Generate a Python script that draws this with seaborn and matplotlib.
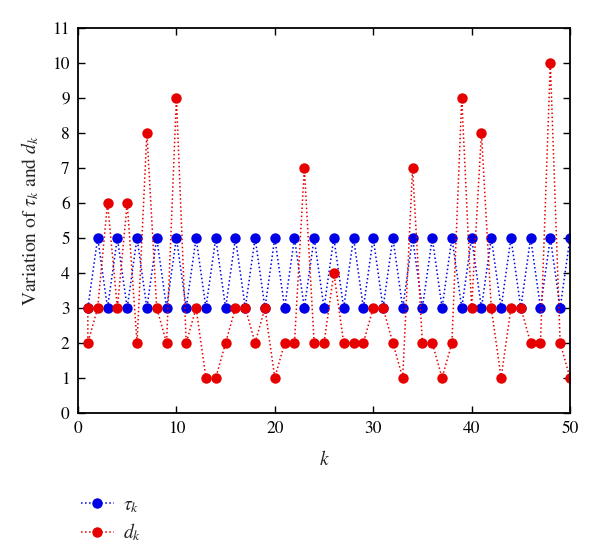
import matplotlib
matplotlib.use("Agg")
import matplotlib.pyplot as plt
import seaborn as sns
import pandas as pd

# ---- data ----
k_tau = list(range(1, 51))
tau = [3, 5] * 25

k_d = [1] + list(range(1, 51))
d = [3,
     2, 3, 6, 3, 6, 2, 8, 3, 2, 9,
     2, 3, 1, 1, 2, 3, 3, 2, 3, 1,
     2, 2, 7, 2, 2, 4, 2, 2, 2, 3,
     3, 2, 1, 7, 2, 2, 1, 2, 9, 3,
     8, 3, 1, 3, 3, 2, 2, 10, 2, 1]

x_ticks = [0, 10, 20, 30, 40, 50]
y_ticks = list(range(0, 12))

sns.set_theme(style="ticks")
plt.rcParams['font.family'] = ['STIXGeneral', 'DejaVu Serif']
plt.rcParams['mathtext.fontset'] = 'stix'

fig = plt.figure(figsize=(6.0, 5.58), dpi=100)
ax = fig.add_axes([0.13, 0.26, 0.82, 0.69])

df_tau = pd.DataFrame({"k": k_tau, "v": tau})
df_d = pd.DataFrame({"k": k_d, "v": d})

sns.lineplot(data=df_tau, x="k", y="v", ax=ax, estimator=None, sort=False,
             color="#0000e6", linestyle=":", linewidth=1.1, marker="o",
             markersize=7.5, markeredgewidth=0, label=r"$\tau_k$")
sns.lineplot(data=df_d, x="k", y="v", ax=ax, estimator=None, sort=False,
             color="#e60000", linestyle=":", linewidth=1.1, marker="o",
             markersize=7.5, markeredgewidth=0, label=r"$d_k$")

ax.set_xlim(0, 50)
ax.set_ylim(0, 11)
ax.set_xticks(x_ticks)
ax.set_yticks(y_ticks)
ax.tick_params(direction="in", top=True, right=True, length=5, width=1,
               labelsize=12.5, colors="black", pad=6)
for s in ax.spines.values():
    s.set_color("black")
    s.set_linewidth(1.3)

ax.set_xlabel(r"$k$", fontsize=14, labelpad=9)
ax.set_ylabel(r"Variation of $\tau_k$ and $d_k$", fontsize=14, labelpad=8)

leg = ax.legend(loc="upper left", bbox_to_anchor=(0.105, 0.142),
                bbox_transform=fig.transFigure, frameon=False,
                fontsize=14, handlelength=1.7, handletextpad=0.5,
                labelspacing=0.35)

fig.savefig("out.png", dpi=100)
